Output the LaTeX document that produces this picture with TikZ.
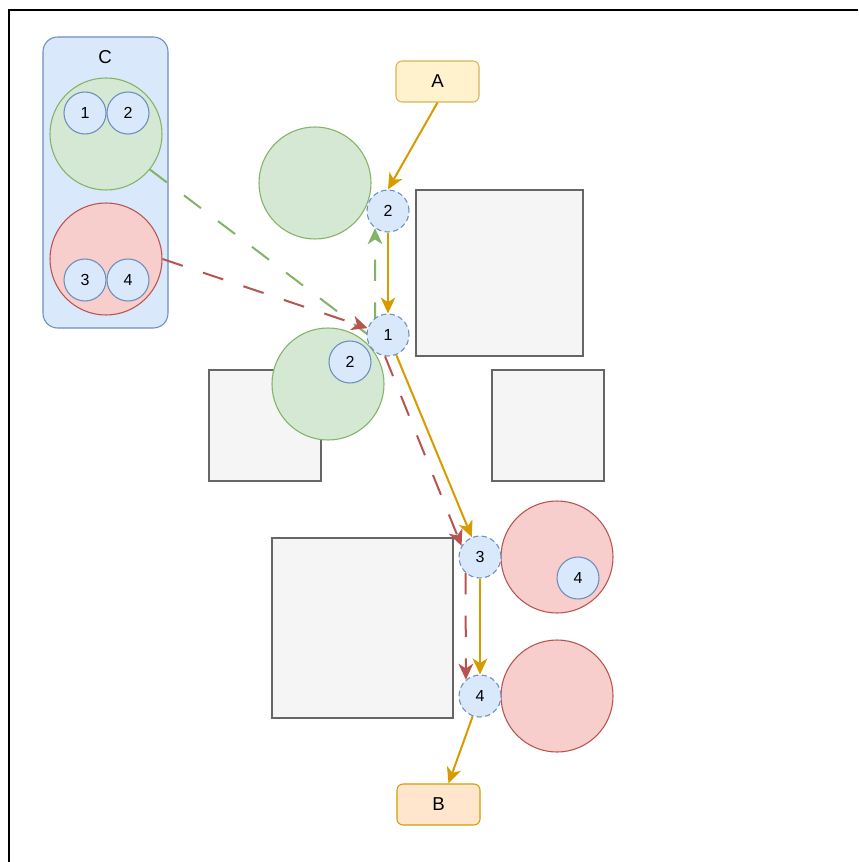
\documentclass[tikz,border=0pt]{standalone}
\usepackage{fontspec}
\setmainfont{Liberation Sans}
\usetikzlibrary{arrows.meta}
\definecolor{bfill}{HTML}{DAE8FC}
\definecolor{bstroke}{HTML}{6C8EBF}
\definecolor{gfill}{HTML}{D5E8D4}
\definecolor{gstroke}{HTML}{82B366}
\definecolor{rfill}{HTML}{F8CECC}
\definecolor{rstroke}{HTML}{B85450}
\definecolor{grfill}{HTML}{F5F5F5}
\definecolor{grstroke}{HTML}{666666}
\definecolor{afill}{HTML}{FFF2CC}
\definecolor{astroke}{HTML}{D6B656}
\definecolor{bbfill}{HTML}{FFE6CC}
\definecolor{oedge}{HTML}{D79B00}
\pgfdeclarelayer{bg}
\pgfdeclarelayer{fg}
\pgfsetlayers{bg,main,fg}
\begin{document}
\begin{tikzpicture}[x=0.75pt,y=-0.75pt,
  sm/.style={circle,draw=bstroke,fill=bfill,line width=0.8pt,minimum size=31.5pt,inner sep=0pt,font=\fontsize{12}{14}\selectfont},
  smd/.style={sm,dash pattern=on 4pt off 2.5pt},
  big/.style={circle,line width=0.8pt,minimum size=84pt,inner sep=0pt},
  gbig/.style={big,draw=gstroke,fill=gfill},
  rbig/.style={big,draw=rstroke,fill=rfill},
  graybox/.style={rectangle,draw=grstroke,fill=grfill,line width=0.8pt,inner sep=0pt},
  term/.style={rectangle,rounded corners=4.5pt,line width=0.8pt,minimum width=62.25pt,minimum height=30.75pt,inner sep=0pt,font=\fontsize{14}{16}\selectfont},
  tip/.style={-{Stealth[length=12pt,width=11pt,inset=3.5pt]}},
  oe/.style={tip,draw=oedge,line width=1.5pt},
  ge/.style={tip,draw=gstroke,line width=1.5pt,dash pattern=on 16pt off 16pt},
  re/.style={tip,draw=rstroke,line width=1.5pt,dash pattern=on 16pt off 16pt}]
\useasboundingbox (0,0) rectangle (858,862);
\draw[line width=1.2pt] (9,862) -- (9,10) -- (858,10);

\begin{pgfonlayer}{bg}
  % container C
  \node[rectangle,rounded corners=11pt,draw=bstroke,fill=bfill,line width=0.8pt,minimum width=93.75pt,minimum height=218.25pt,inner sep=0pt] (cont) at (105.5,182.5) {};
  \node[font=\fontsize{14}{16}\selectfont] (clabel) at (105,57) {C};
  \node[gbig] (cg) at (106,134) {};
  \node[rbig] (cr) at (106,259) {};
  \node[sm] (c1) at (85,113) {1};
  \node[sm] (c2) at (128,113) {2};
  \node[sm] (c3) at (85,280) {3};
  \node[sm] (c4) at (128,280) {4};
  % gray boxes
  \node[graybox,minimum width=125.25pt,minimum height=124.5pt] (box1) at (499.5,273) {};
  \node[graybox,minimum width=84pt,minimum height=83.25pt] (box2) at (265,425.5) {};
  \node[graybox,minimum width=84pt,minimum height=83.25pt] (box3) at (548,425.5) {};
  \node[graybox,minimum width=135.75pt,minimum height=135pt] (box4) at (362.5,628) {};
  % big circles
  \node[gbig] (gtop) at (315,183) {};
  \node[gbig] (gmid) at (328,384) {};
  \node[sm] (gmid2) at (350,362) {2};
  \node[rbig] (rmid) at (557,557) {};
  \node[sm] (rmid4) at (578,578) {4};
  \node[rbig] (rbot) at (557,696) {};
  % terminals
  \node[term,draw=astroke,fill=afill] (A) at (437.5,81.5) {A};
  \node[term,draw=oedge,fill=bbfill] (B) at (438.5,804.5) {B};
\end{pgfonlayer}

\begin{pgfonlayer}{fg}
  \node[smd] (n2) at (388,211) {2};
  \node[smd] (n1) at (388,335) {1};
  \node[smd] (n3) at (480,557) {3};
  \node[smd] (n4) at (480,696) {4};
\end{pgfonlayer}

% connectors
\coordinate (gcorner) at (375,340);
\draw[ge] (cg.-39) -- (gcorner) -- (n2.-127);
\draw[re] (cr.east) -- (n1);
\draw[re] (n1.-98) -- (n3.149);
\draw[re] (n3.-132) -- (n4.131);
\draw[oe] (A.south) -- (n2.north);
\draw[oe] (n2) -- (n1);
\draw[oe] (n1) -- (n3);
\draw[oe] (n3) -- (n4);
\draw[oe] (n4) -- ([xshift=7.5pt]B.north);
\end{tikzpicture}
\end{document}
